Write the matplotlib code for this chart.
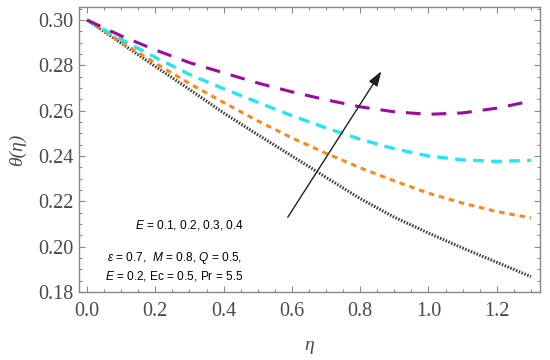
import matplotlib
matplotlib.use("Agg")
import matplotlib.pyplot as plt
from matplotlib.ticker import MultipleLocator

# eta grid and temperature profiles for E = 0.1, 0.2, 0.3, 0.4
eta = [0.0, 0.1, 0.2, 0.3, 0.4, 0.5, 0.6, 0.7, 0.8, 0.9, 1.0, 1.1, 1.2, 1.3]
theta_e01 = [0.3000, 0.2898, 0.2795, 0.2694, 0.2590, 0.2494, 0.2400, 0.2306,
             0.2212, 0.2130, 0.2060, 0.1994, 0.1931, 0.1868]
theta_e02 = [0.3000, 0.2903, 0.2810, 0.2720, 0.2636, 0.2555, 0.2480, 0.2412,
             0.2348, 0.2290, 0.2236, 0.2192, 0.2155, 0.2127]
theta_e03 = [0.3000, 0.2915, 0.2835, 0.2760, 0.2697, 0.2637, 0.2578, 0.2524,
             0.2474, 0.2432, 0.2400, 0.2383, 0.2376, 0.2381]
theta_e04 = [0.3000, 0.2930, 0.2868, 0.2812, 0.2767, 0.2722, 0.2683, 0.2648,
             0.2617, 0.2595, 0.2584, 0.2590, 0.2611, 0.2642]

x_ticks = [0.0, 0.2, 0.4, 0.6, 0.8, 1.0, 1.2]
y_ticks = [0.18, 0.20, 0.22, 0.24, 0.26, 0.28, 0.30]

plt.rcParams['mathtext.fontset'] = 'custom'
plt.rcParams['mathtext.rm'] = 'Liberation Sans'
plt.rcParams['mathtext.it'] = 'Liberation Sans:italic'

fig = plt.figure(figsize=(5.5, 3.6), dpi=100)
ax = fig.add_axes([0.1436, 0.1889, 0.8382, 0.7917])

# curves
ax.plot(eta, theta_e01, color='#3a3a3a', lw=2.2, linestyle=(0, (0.5, 0.5)))
ax.plot(eta, theta_e02, color='#ff8619', lw=2.2, linestyle=(0, (1.8, 1.6)))
ax.plot(eta, theta_e03, color='#22e6f0', lw=2.4, linestyle=(0, (3.2, 2.2)))
ax.plot(eta, theta_e04, color='#9c0c9c', lw=2.2, linestyle=(0, (4.8, 3.6)))

# arrow showing increase of E
ax.annotate('', xy=(0.862, 0.2774), xytext=(0.588, 0.2130),
            arrowprops=dict(arrowstyle='-|>,head_length=0.9,head_width=0.3',
                            color='#202020', lw=1.0, shrinkA=0, shrinkB=0))

# parameter labels
ax.text(0.1406, 0.2082, r'$\mathit{E}$ = 0.1, 0.2, 0.3, 0.4', fontsize=8.6,
        family='Liberation Sans')
ax.text(0.0586, 0.1937, r'$\epsilon$ = 0.7,  $\mathit{M}$ = 0.8, $\mathit{Q}$ = 0.5,',
        fontsize=8.6, family='Liberation Sans')
ax.text(0.0527, 0.1857, r'$\mathit{E}$ = 0.2, Ec = 0.5, Pr = 5.5', fontsize=8.6,
        family='Liberation Sans')

ax.set_xlim(-0.0234, 1.3265)
ax.set_ylim(0.18, 0.30574)
ax.set_xticks(x_ticks)
ax.set_yticks(y_ticks)
ax.set_xticklabels(['%.1f' % v for v in x_ticks])
ax.set_yticklabels(['%.2f' % v for v in y_ticks])
ax.xaxis.set_minor_locator(MultipleLocator(0.05))
ax.yaxis.set_minor_locator(MultipleLocator(0.005))

ax.tick_params(which='both', direction='in', top=True, right=True,
               color='#888888', width=0.8)
ax.tick_params(which='major', length=4)
ax.tick_params(which='minor', length=2)
ax.tick_params(axis='both', labelsize=14.5, labelcolor='#4a4a4a')
ax.tick_params(axis='x', pad=7)
ax.tick_params(axis='y', pad=4)
for lab in ax.get_xticklabels() + ax.get_yticklabels():
    lab.set_family('Liberation Serif')
for sp in ax.spines.values():
    sp.set_color('#888888')
    sp.set_linewidth(1.0)

ax.set_xlabel('η', family='Liberation Serif', style='italic', fontsize=14,
              color='#4a4a4a', labelpad=12)
ax.set_ylabel('θ(η)', family='Liberation Serif', style='italic', fontsize=14,
              color='#4a4a4a', labelpad=9)

fig.savefig('out.png', dpi=100)
